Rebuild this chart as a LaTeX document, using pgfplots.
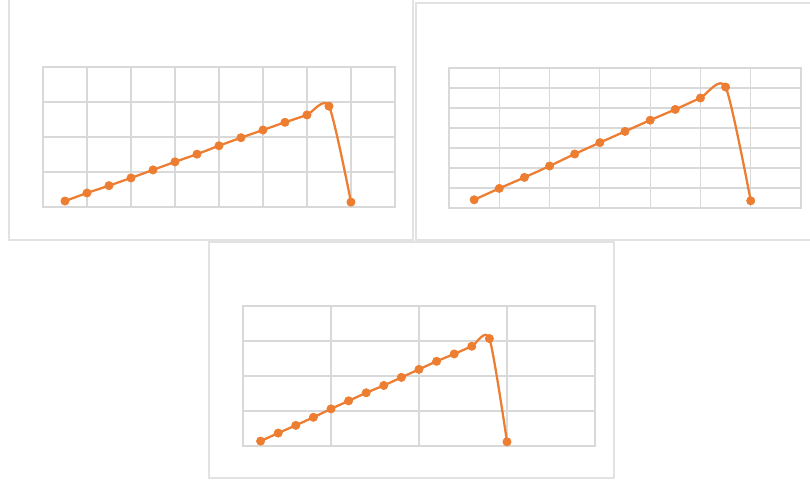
\documentclass[border=0pt]{standalone}
\usepackage{pgfplots}
\pgfplotsset{compat=1.18}
\definecolor{xlorange}{HTML}{ED7D31}
\definecolor{xlgrid}{HTML}{D9D9D9}
\definecolor{panelline}{HTML}{E2E2E2}
\pgfplotsset{
  panel/.style={
    scale only axis,
    width=264pt, height=105pt,
    anchor=south west,
    axis line style={xlgrid, line width=0.9pt},
    grid=major,
    grid style={xlgrid, line width=0.9pt},
    major tick length=0pt,
    xticklabels={}, yticklabels={},
    clip=false,
  },
  curve/.style={
    xlorange, line width=1.7pt, smooth, tension=0.42,
    mark=*, mark size=3.1pt,
    mark options={fill=xlorange, draw=xlorange, line width=0.5pt},
  },
}
\begin{document}
\begin{tikzpicture}
\path[use as bounding box, fill=white] (0pt,0pt) rectangle (607.5pt,359.25pt);

% panel frames (pixel units, y up)
\begin{scope}[x=0.75pt, y=0.75pt]
\draw[panelline, line width=0.8pt] (9,484) -- (9,239) -- (413,239) -- (413,484);
\draw[panelline, line width=0.8pt] (812,476) -- (416,476) -- (416,239) -- (812,239);
\draw[panelline, line width=0.8pt] (209,237) rectangle (614,1);
\end{scope}

% top left panel
\begin{axis}[panel, at={(32.25pt,204pt)},
  xmin=0, xmax=8, ymin=0, ymax=4,
  xtick={0,...,8}, ytick={0,...,4}]
\addplot[curve] coordinates {
  (0.5,0.17) (1,0.40) (1.5,0.61) (2,0.83) (2.5,1.06) (3,1.29) (3.5,1.51)
  (4,1.75) (4.5,1.98) (5,2.20) (5.5,2.42) (6,2.63) (6.5,2.88) (7,0.14)
};
\end{axis}

% top right panel
\begin{axis}[panel, at={(336.75pt,203.25pt)},
  xmin=0, xmax=7, ymin=0, ymax=7,
  xtick={0,...,7}, ytick={0,...,7}]
\addplot[curve] coordinates {
  (0.5,0.41) (1,0.98) (1.5,1.53) (2,2.10) (2.5,2.70) (3,3.27)
  (3.5,3.83) (4,4.39) (4.5,4.93) (5,5.50) (5.5,6.05) (6,0.36)
};
\end{axis}

% bottom panel
\begin{axis}[panel, at={(182.25pt,24.75pt)},
  xmin=0, xmax=4, ymin=0, ymax=4,
  xtick={0,...,4}, ytick={0,...,4}]
\addplot[curve] coordinates {
  (0.2,0.14) (0.4,0.37) (0.6,0.59) (0.8,0.82) (1.0,1.06) (1.2,1.29)
  (1.4,1.52) (1.6,1.73) (1.8,1.96) (2.0,2.19) (2.2,2.42) (2.4,2.63)
  (2.6,2.85) (2.8,3.07) (3.0,0.12)
};
\end{axis}
\end{tikzpicture}
\end{document}
